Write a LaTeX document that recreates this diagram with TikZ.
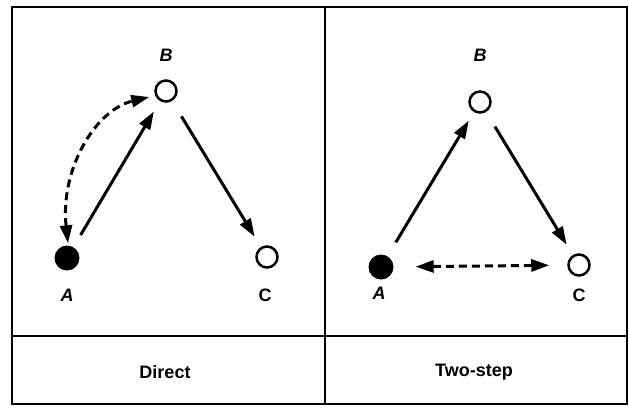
\documentclass[tikz,border=0pt]{standalone}
\usepackage{fontspec}
\setmainfont{Liberation Sans}
\usetikzlibrary{arrows.meta}
\begin{document}
\begin{tikzpicture}[x=1pt,y=-1pt,
  frame/.style={line width=2pt},
  full/.style={circle,fill=black,minimum size=25pt,inner sep=0pt},
  open/.style={circle,draw,line width=2.5pt,fill=white,minimum size=21pt,inner sep=0pt},
  lab/.style={font=\fontsize{18}{18}\selectfont\bfseries\itshape},
  labc/.style={font=\fontsize{18}{18}\selectfont\bfseries},
  captext/.style={font=\fontsize{18}{18}\selectfont\bfseries},
  arr/.style={line width=3pt,-{Triangle[length=18pt,width=12pt]}},
  darr/.style={line width=3pt,dash pattern=on 8pt off 5pt,{Triangle[length=18pt,width=12pt]}-{Triangle[length=18pt,width=12pt]}}
]
\useasboundingbox (0,0) rectangle (629,407);
% frame
\draw[frame] (12,7) rectangle (627,404);
\draw[frame] (325,7) -- (325,404);
\draw[frame] (12,336) -- (627,336);
% left panel
\node[full] (A1) at (67,258) {};
\node[open] (B1) at (166,91) {};
\node[open] (C1) at (267,257) {};
\node[lab] (lA1) at (67,295) {A};
\node[lab] (lB1) at (166,55) {B};
\node[labc] (lC1) at (265,295) {C};
\draw[arr,shorten <=14pt,shorten >=12pt] (A1) -- (B1);
\draw[arr,shorten <=18pt,shorten >=12pt] (B1) -- (C1);
\path (A1.north) ++(1,-2) coordinate (d1);
\path (B1.west) ++(-5,6) coordinate (d2);
\draw[darr] (d1) .. controls (60,170) and (95,110) .. (d2);
% right panel
\node[full] (A2) at (381,267) {};
\node[open] (B2) at (480,102) {};
\node[open] (C2) at (579,265) {};
\node[lab] (lA2) at (379,293) {A};
\node[lab] (lB2) at (480,55) {B};
\node[labc] (lC2) at (579,295) {C};
\draw[arr,shorten <=16pt,shorten >=10pt] (A2) -- (B2);
\draw[arr,shorten <=17pt,shorten >=12pt] (B2) -- (C2);
\draw[darr,shorten <=22pt,shorten >=18pt] (A2) -- (C2);
% captions
\node[captext] (t1) at (165,372) {Direct};
\node[captext] (t2) at (474,372) {Two-step};
\end{tikzpicture}
\end{document}
